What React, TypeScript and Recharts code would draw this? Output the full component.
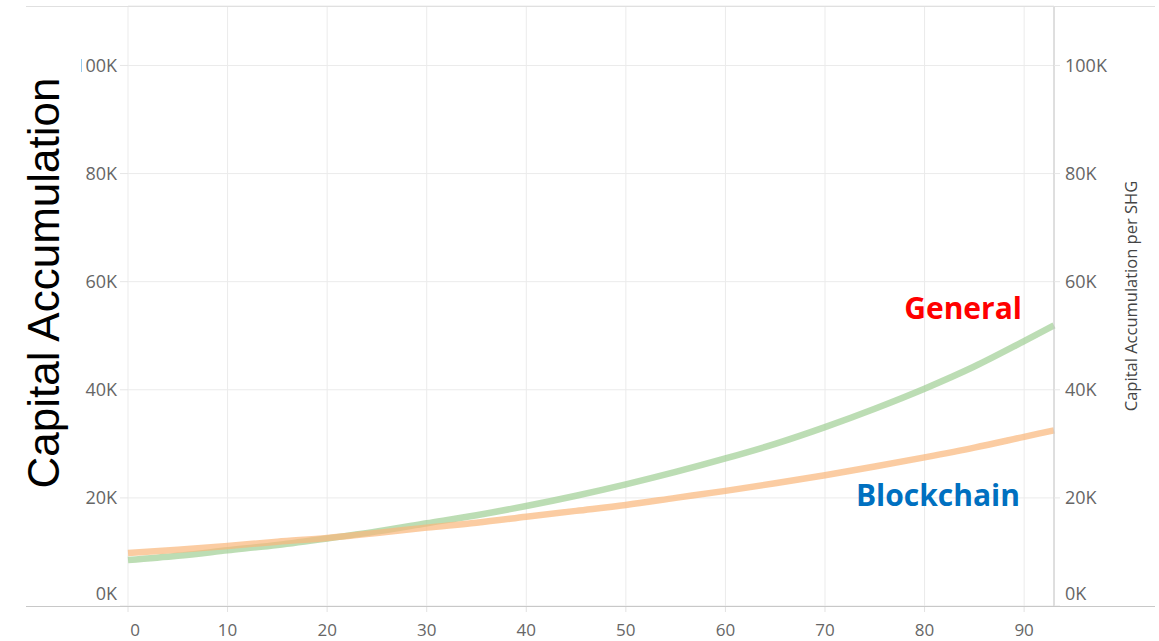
import React from "react";
import { CartesianGrid, Line, LineChart, XAxis, YAxis } from "recharts";

// Months (x) and cumulative capital per SHG.
const months = [0, 5, 10, 15, 20, 25, 30, 35, 40, 45, 50, 55, 60, 65, 70, 75, 80, 85, 90, 93];
const generalValues = [
  8500, 9300, 10300, 11300, 12500, 13800, 15300, 16800, 18500, 20400,
  22500, 24800, 27300, 30000, 33100, 36500, 40200, 44300, 49000, 51900,
];
const blockchainValues = [
  9800, 10400, 11100, 11900, 12600, 13500, 14500, 15400, 16500, 17600,
  18700, 20000, 21300, 22700, 24200, 25800, 27500, 29300, 31300, 32500,
];

const xTicks = [0, 10, 20, 30, 40, 50, 60, 70, 80, 90];
const yTicks = [0, 20000, 40000, 60000, 80000, 100000];

const W = 1159;
const H = 641;
const TICK_FONT = "'Open Sans', sans-serif";
const tickStyle = { fontFamily: TICK_FONT, fontSize: 18, fill: "#666" };

const data = months.map((m, i) => ({
  month: m,
  general: generalValues[i],
  blockchain: blockchainValues[i],
}));

const fmtK = (v: number) => `${Math.round(v / 1000)}K`;

// Tableau keeps the "0K" label inside the pane, so it sits above its gridline.
const zeroLift = (v: number) => (v === 0 ? -12 : 0);

// Left tick labels get clipped at the left, like the source (".00K").
function LeftTick(props: any) {
  const { x, y, payload } = props;
  const id = `lclip-${payload.value}`;
  return (
    <g>
      <defs>
        <clipPath id={id} clipPathUnits="userSpaceOnUse">
          <rect x={81} y={0} width={200} height={H} />
        </clipPath>
      </defs>
      <text
        x={x}
        y={y + zeroLift(payload.value)}
        dy="0.355em"
        textAnchor="end"
        clipPath={`url(#${id})`}
        style={tickStyle}
      >
        {fmtK(payload.value)}
      </text>
    </g>
  );
}

function RightTick(props: any) {
  const { x, y, payload } = props;
  return (
    <text x={x} y={y + zeroLift(payload.value)} dy="0.355em" textAnchor="start" style={tickStyle}>
      {fmtK(payload.value)}
    </text>
  );
}

function BottomTick(props: any) {
  const { x, y, payload } = props;
  return (
    <text
      x={x + (payload.value === 0 ? 7 : 0)}
      y={y}
      dy="0.71em"
      textAnchor="middle"
      style={{ ...tickStyle, fontSize: 17 }}
    >
      {payload.value}
    </text>
  );
}

export default function App() {
  return (
    <div style={{ position: "absolute", left: 0, top: 0, width: W, height: H, background: "#fff" }}>
      <LineChart width={W} height={H} data={data} margin={{ top: 6, right: 0, bottom: 0, left: 26 }}>
        <CartesianGrid stroke="#ebebeb" strokeWidth={1} yAxisId="left" />
        <XAxis
          dataKey="month"
          type="number"
          domain={[0, 93]}
          ticks={xTicks}
          height={35}
          axisLine={false}
          tickLine={{ stroke: "#e2e2e2" }}
          tickSize={6}
          tickMargin={12}
          tick={<BottomTick />}
        />
        <YAxis
          yAxisId="left"
          orientation="left"
          width={102}
          domain={[0, 111000]}
          ticks={yTicks}
          axisLine={false}
          tickLine={{ stroke: "#e6e6e6" }}
          tickSize={8}
          tickMargin={3}
          tick={<LeftTick />}
        />
        <YAxis
          yAxisId="right"
          orientation="right"
          width={105}
          domain={[0, 111000]}
          ticks={yTicks}
          axisLine={{ stroke: "#c8c8c8" }}
          tickLine={{ stroke: "#e6e6e6" }}
          tickSize={6}
          tickMargin={5}
          tick={<RightTick />}
        />
        <Line
          yAxisId="left"
          type="monotone"
          dataKey="general"
          stroke="#9fcf94"
          strokeOpacity={0.7}
          strokeWidth={6.5}
          dot={false}
          activeDot={false}
          isAnimationActive={false}
        />
        <Line
          yAxisId="right"
          type="monotone"
          dataKey="blockchain"
          stroke="#f9b77a"
          strokeOpacity={0.7}
          strokeWidth={6.5}
          dot={false}
          activeDot={false}
          isAnimationActive={false}
        />
      </LineChart>

      <svg width={W} height={H} style={{ position: "absolute", left: 0, top: 0, pointerEvents: "none" }}>
        <line x1={26} x2={1155} y1={6.5} y2={6.5} stroke="#e0e0e0" />
        <line x1={26} x2={1155} y1={606.5} y2={606.5} stroke="#c8c8c8" />
        <text
          transform="translate(59,283) rotate(-90)"
          textAnchor="middle"
          style={{ fontFamily: "'Liberation Sans', Arial, sans-serif", fontSize: 44, fill: "#000" }}
        >
          Capital Accumulation
        </text>
        <text
          transform="translate(1137,296) rotate(-90)"
          textAnchor="middle"
          style={{ fontFamily: TICK_FONT, fontSize: 16.5, fill: "#444" }}
        >
          Capital Accumulation per SHG
        </text>
        <text
          x={1022}
          y={319}
          textAnchor="end"
          style={{ fontFamily: TICK_FONT, fontSize: 30, fontWeight: 700, fill: "#ff0000" }}
        >
          General
        </text>
        <text
          x={1020}
          y={506}
          textAnchor="end"
          style={{ fontFamily: TICK_FONT, fontSize: 30, fontWeight: 700, fill: "#0070c0" }}
        >
          Blockchain
        </text>
      </svg>
    </div>
  );
}
